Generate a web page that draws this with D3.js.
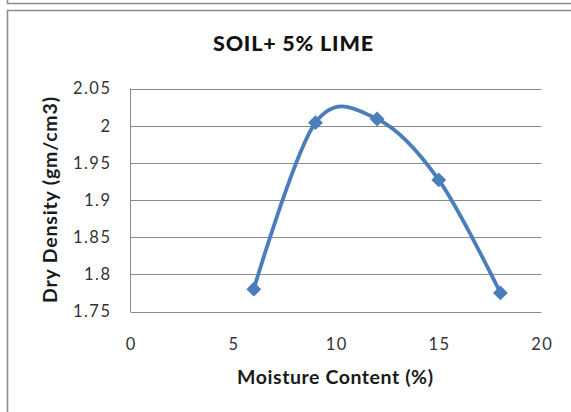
<!DOCTYPE html>
<html><head><meta charset="utf-8">
<script src="https://cdn.jsdelivr.net/npm/d3@7"></script>
<style>body{margin:0;background:#fff}svg{display:block}</style>
</head><body>
<svg id="c" width="571" height="412"></svg>
<script>
const moisture = [6, 9, 12, 15, 18];
const density = [1.78, 2.004, 2.009, 1.927, 1.775];
const xTicks = [0, 5, 10, 15, 20];
const yTicks = [1.75, 1.8, 1.85, 1.9, 1.95, 2, 2.05];
const title = "SOIL+ 5% LIME";
const xTitle = "Moisture Content (%)";
const yTitle = "Dry Density (gm/cm3)";

const svg = d3.select("#c");
const font = "Lato, 'Open Sans', sans-serif";

// frames
svg.append("path").attr("d","M7.5,0 V3.5 H571").attr("fill","none").attr("stroke","#8c8c8c").attr("stroke-width",1.6);
svg.append("path").attr("d","M7.5,412 V10.5 H571").attr("fill","none").attr("stroke","#8c8c8c").attr("stroke-width",1.6);

const x = d3.scaleLinear().domain([0,20]).range([130.5,541.5]);
const y = d3.scaleLinear().domain([1.75,2.05]).range([311.5,88.5]);

// gridlines
svg.append("g").selectAll("line").data(yTicks).join("line")
  .attr("x1",x(0)).attr("x2",x(20)).attr("y1",d=>Math.round(y(d))+0.5).attr("y2",d=>Math.round(y(d))+0.5)
  .attr("stroke","#8a8a8a").attr("stroke-width",1);
// vertical axis line
svg.append("line").attr("x1",x(0)).attr("x2",x(0)).attr("y1",y(2.05)).attr("y2",y(1.75)+0.5)
  .attr("stroke","#8a8a8a");

const ls = 1.5;
// y tick labels
svg.append("g").selectAll("text").data(yTicks).join("text")
  .attr("x",110 + ls).attr("y",d=>y(d)).attr("dy","0.36em").attr("text-anchor","end")
  .attr("font-family",font).attr("font-size",16.5).attr("fill","#333")
  .attr("letter-spacing",ls)
  .text(d=>String(+d.toFixed(2)));
// x tick labels
svg.append("g").selectAll("text").data(xTicks).join("text")
  .attr("x",d=>x(d) + ls/2).attr("y",350).attr("text-anchor","middle")
  .attr("font-family",font).attr("font-size",16.5).attr("fill","#333")
  .attr("letter-spacing",ls)
  .text(d=>d);

// titles
svg.append("text").attr("x",293).attr("y",51).attr("text-anchor","middle")
  .attr("font-family",font).attr("font-weight","900").attr("font-size",21.5).attr("fill","#111")
  .attr("textLength",160).attr("lengthAdjust","spacing")
  .text(title);
svg.append("text").attr("x",335).attr("y",383.5).attr("text-anchor","middle")
  .attr("font-family",font).attr("font-weight","bold").attr("font-size",19.5).attr("fill","#1a1a1a")
  .attr("textLength",196).attr("lengthAdjust","spacing")
  .text(xTitle);
svg.append("text").attr("transform","translate(57,200) rotate(-90)").attr("text-anchor","middle")
  .attr("font-family",font).attr("font-weight","bold").attr("font-size",19.5).attr("fill","#1a1a1a")
  .attr("textLength",206).attr("lengthAdjust","spacing")
  .text(yTitle);

// line
const pts = moisture.map((m,i)=>[m,density[i]]);
const line = d3.line().x(d=>x(d[0])).y(d=>y(d[1])).curve(d3.curveCardinal.tension(0));
svg.append("path").datum(pts).attr("d",line).attr("fill","none")
  .attr("stroke","#4a7ebb").attr("stroke-width",3.8).attr("stroke-linejoin","round");

// markers
svg.append("g").selectAll("path").data(pts).join("path")
  .attr("d",d3.symbol().type(d3.symbolDiamond2).size(140))
  .attr("transform",d=>`translate(${x(d[0])},${y(d[1])})`)
  .attr("fill","#4a7ebb");
</script>
</body></html>
